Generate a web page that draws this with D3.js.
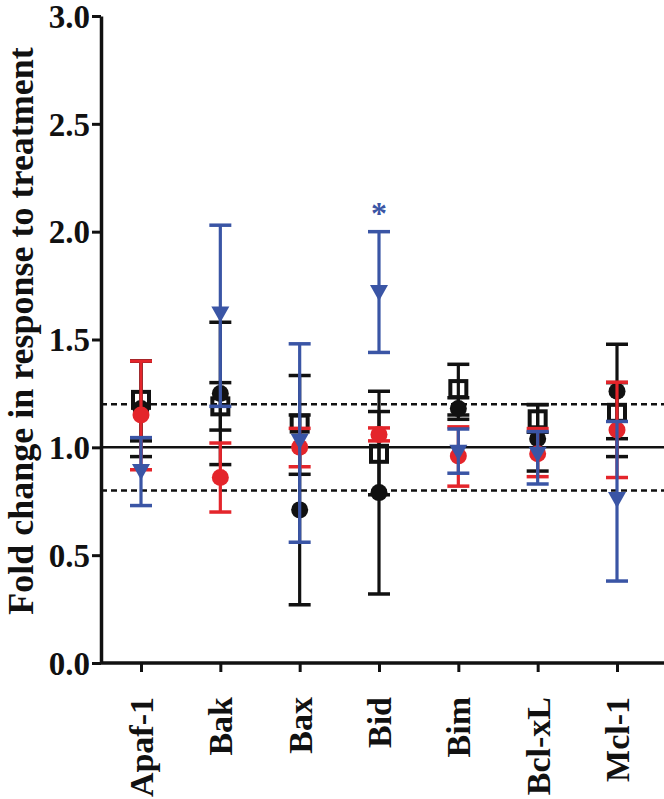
<!DOCTYPE html>
<html>
<head>
<meta charset="utf-8">
<script src="https://cdn.jsdelivr.net/npm/d3@7"></script>
<style>
  html, body { margin: 0; padding: 0; background: #fff; }
  svg { display: block; }
  text { font-family: "Liberation Serif", "Times New Roman", serif; font-weight: bold; }
</style>
</head>
<body>
<svg id="chart" width="664" height="799"></svg>
<script>
// ---- data ----
const categories = ["Apaf-1", "Bak", "Bax", "Bid", "Bim", "Bcl-xL", "Mcl-1"];
const yTicks = [0, 0.5, 1.0, 1.5, 2.0, 2.5, 3.0];
const refLines = [1.2, 0.8];

// black open squares
const sqMean = [1.22, 1.19, 1.11, 0.97, 1.27, 1.13, 1.16];
const sqLow  = [1.03, 1.08, 0.875, 0.78, 1.15, 1.07, 0.957];
const sqHigh = [1.40, 1.30, 1.333, 1.166, 1.385, 1.198, 1.30];

// black filled circles
const bcMean = [1.18, 1.25, 0.71, 0.79, 1.18, 1.04, 1.26];
const bcLow  = [0.957, 0.92, 0.27, 0.32, 1.13, 0.89, 1.04];
const bcHigh = [1.40, 1.58, 1.15, 1.26, 1.23, 1.198, 1.478];

// red filled circles
const rcMean = [1.15, 0.86, 1.00, 1.06, 0.96, 0.97, 1.08];
const rcLow  = [0.896, 0.70, 0.91, 1.03, 0.82, 0.864, 0.86];
const rcHigh = [1.40, 1.02, 1.088, 1.09, 1.095, 1.087, 1.302];

// blue down triangles
const btMean = [0.89, 1.62, 1.03, 1.72, 0.98, 0.97, 0.76];
const btLow  = [0.73, 1.19, 0.56, 1.44, 0.88, 0.83, 0.38];
const btHigh = [1.045, 2.03, 1.48, 2.00, 1.085, 1.073, 1.12];

const starCategory = "Bid";
const starValue = 2.14;

// ---- layout ----
const svg = d3.select("#chart");
const mLeft = 101, mRight = 664, mTop = 16, mBottom = 663;
const black = "#111", red = "#e4252b", blue = "#3a55a5";

const x = d3.scalePoint().domain(categories).range([141, 617]);
const y = d3.scaleLinear().domain([0, 3]).range([mBottom, mTop]);

// reference lines
svg.append("line").attr("x1", mLeft).attr("x2", mRight)
  .attr("y1", y(1)).attr("y2", y(1))
  .attr("stroke", black).attr("stroke-width", 2.5);
refLines.forEach(v => {
  svg.append("line").attr("x1", mLeft).attr("x2", mRight)
    .attr("y1", y(v)).attr("y2", y(v))
    .attr("stroke", black).attr("stroke-width", 2.5)
    .attr("stroke-dasharray", "6,4");
});

// axes
const yAxis = d3.axisLeft(y).tickValues(yTicks).tickFormat(d3.format(".1f")).tickSize(9).tickSizeOuter(0);
const gy = svg.append("g").attr("transform", `translate(${mLeft},0)`).call(yAxis);
gy.select(".domain").attr("stroke", black).attr("stroke-width", 3.5);
gy.selectAll(".tick line").attr("stroke", black).attr("stroke-width", 3);
gy.selectAll(".tick text").attr("font-size", 33).attr("fill", black)
  .attr("font-family", "Liberation Serif").attr("font-weight", "bold").attr("x", -11).attr("dy", "0.34em");

const xAxis = d3.axisBottom(x).tickSize(9).tickSizeOuter(0);
const gx = svg.append("g").attr("transform", `translate(0,${mBottom})`).call(xAxis);
gx.select(".domain").attr("d", `M${mLeft},0H${mRight}`).attr("stroke", black).attr("stroke-width", 3.5);
gx.selectAll(".tick line").attr("stroke", black).attr("stroke-width", 3);
gx.selectAll(".tick text")
  .attr("font-size", 34).attr("fill", black)
  .attr("font-family", "Liberation Serif").attr("font-weight", "bold")
  .attr("transform", "rotate(-90)")
  .attr("text-anchor", "end")
  .attr("x", -34).attr("y", 0).attr("dy", "0.34em");

// y-axis title
svg.append("text")
  .attr("transform", `translate(33,331) rotate(-90)`)
  .attr("text-anchor", "middle")
  .attr("font-size", 36).attr("fill", black)
  .text("Fold change in response to treatment");

// ---- series ----
function drawSeries(mean, low, high, color, shape) {
  const g = svg.append("g");
  const capW = 22;
  categories.forEach((c, i) => {
    const cx = x(c);
    g.append("line").attr("x1", cx).attr("x2", cx)
      .attr("y1", y(low[i])).attr("y2", y(high[i]))
      .attr("stroke", color).attr("stroke-width", 3.2);
    [low[i], high[i]].forEach(v => {
      g.append("line").attr("x1", cx - capW / 2).attr("x2", cx + capW / 2)
        .attr("y1", y(v)).attr("y2", y(v))
        .attr("stroke", color).attr("stroke-width", 3.5);
    });
    const cy = y(mean[i]);
    if (shape === "square") {
      g.append("rect").attr("x", cx - 8).attr("y", cy - 8)
        .attr("width", 16).attr("height", 16)
        .attr("fill", "none").attr("stroke", color).attr("stroke-width", 4);
    } else if (shape === "circle") {
      g.append("circle").attr("cx", cx).attr("cy", cy).attr("r", 8.5).attr("fill", color);
    } else {
      g.append("path")
        .attr("d", `M${cx - 9},${cy - 7}L${cx + 9},${cy - 7}L${cx},${cy + 9}Z`)
        .attr("fill", color);
    }
  });
}

drawSeries(sqMean, sqLow, sqHigh, black, "square");
drawSeries(bcMean, bcLow, bcHigh, black, "circle");
drawSeries(rcMean, rcLow, rcHigh, red, "circle");
drawSeries(btMean, btLow, btHigh, blue, "triangle");

// significance star
svg.append("text")
  .attr("x", x(starCategory)).attr("y", y(starValue))
  .attr("text-anchor", "middle").attr("dy", "0.7em")
  .attr("font-size", 32).attr("fill", blue)
  .text("*");
</script>
</body>
</html>
